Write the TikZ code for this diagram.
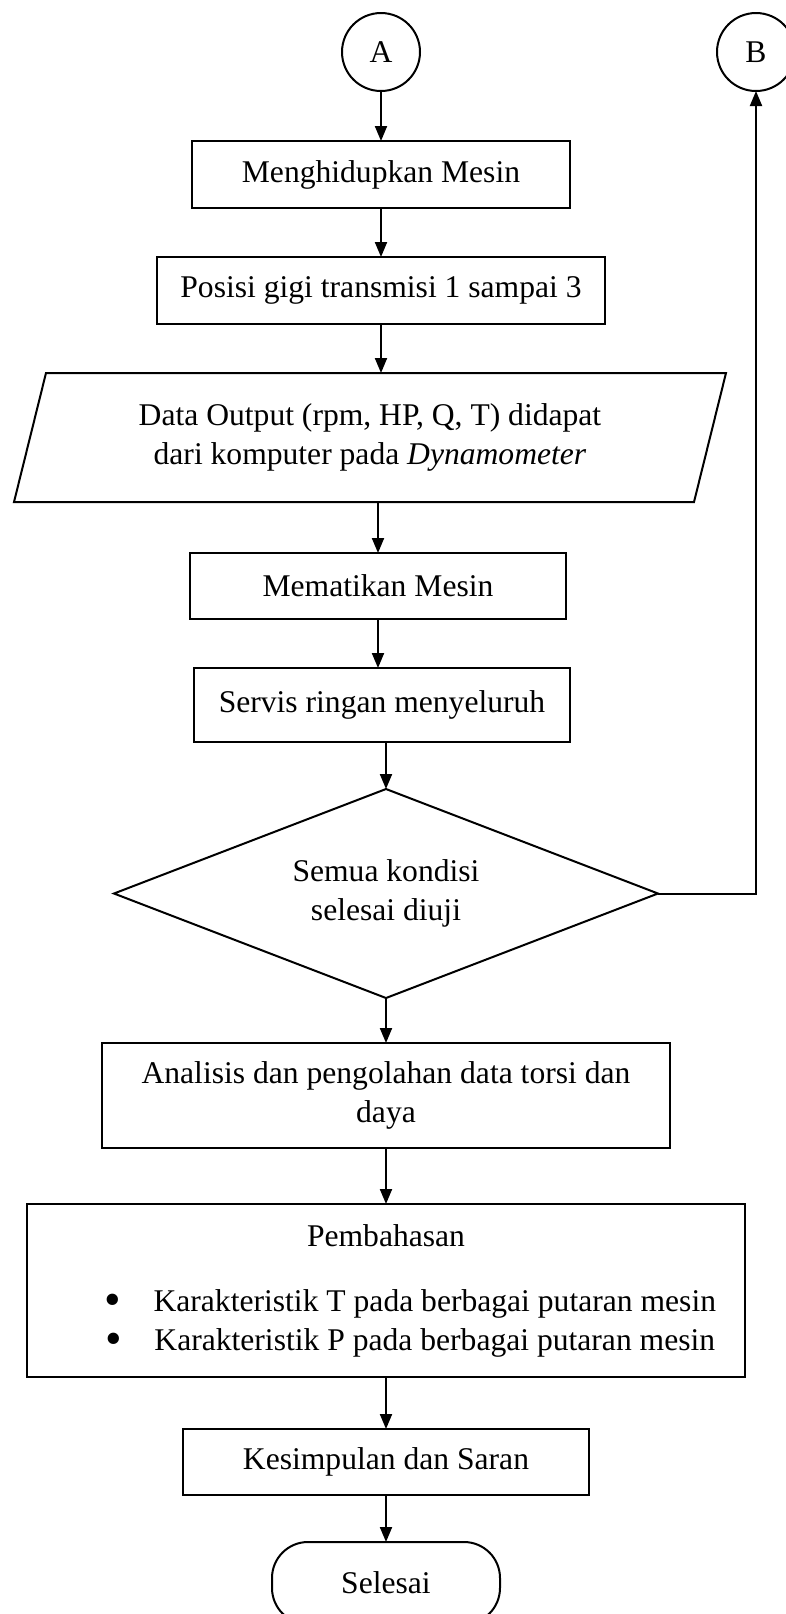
\documentclass[tikz,border=0pt]{standalone}
\usepackage{fontspec}
\setmainfont{Liberation Serif}
\usetikzlibrary{arrows.meta,positioning,shapes.geometric}

\newcommand{\bigbullet}{\smash{\raisebox{-2.2pt}{\scalebox{1.5}{\textbullet}}}}

\begin{document}
\begin{tikzpicture}[
    node distance=25pt,
    font=\fontsize{15.8}{19.5}\selectfont,
    box/.style={draw,line width=1pt,align=center,inner sep=2pt,outer sep=0pt},
    conn/.style={draw,circle,line width=1pt,minimum size=39pt,inner sep=0pt,outer sep=0pt},
    decision/.style={draw,diamond,aspect=2.6,line width=1pt,inner sep=0pt,outer sep=0pt,
                     minimum width=272pt,minimum height=104.5pt,align=center},
    flow/.style={->,line width=1pt},
    >={Triangle[length=7.5pt,width=6pt]}]
  \clip (0,0) rectangle (393pt,-807pt);

  \node[conn] (A) at (190.5pt,-26pt) {A};
  \node[conn,right=148.5pt of A] (B) {B};
  \node[box,below=of A,minimum width=189pt,minimum height=33.5pt] (hidup)
        {Menghidupkan Mesin};
  \node[box,below=24.5pt of hidup,minimum width=224pt,minimum height=33.5pt] (gigi)
        {Posisi gigi transmisi 1 sampai 3};
  \node[below=24.5pt of gigi,xshift=-5.5pt,minimum width=340pt,minimum height=64.5pt,
        align=center,inner sep=0pt,outer sep=0pt] (data)
        {Data Output (rpm, HP, Q, T) didapat\\dari komputer pada \textit{Dynamometer}};
  \draw[line width=1pt] ([xshift=8pt]data.north west) -- ([xshift=8pt]data.north east)
        -- ([xshift=-8pt]data.south east) -- ([xshift=-8pt]data.south west) -- cycle;
  \node[box,below=25.5pt of data,xshift=4pt,minimum width=188pt,minimum height=33pt] (mati)
        {Mematikan Mesin};
  \node[box,below=24.5pt of mati,xshift=2pt,minimum width=188pt,minimum height=37pt] (servis)
        {Servis ringan menyeluruh};
  \node[decision,below=23.5pt of servis,xshift=2pt] (uji)
        {Semua kondisi\\selesai diuji};
  \node[box,below=22.5pt of uji,minimum width=284pt,minimum height=52.5pt] (olah)
        {Analisis dan pengolahan data torsi dan\\daya};
  \node[box,below=28pt of olah,minimum width=359pt,minimum height=86.5pt] (bahas)
        {Pembahasan\\[13pt]
         \hspace*{24.5pt}\bigbullet\hspace{16pt}Karakteristik T pada berbagai putaran mesin\\
         \hspace*{24.5pt}\bigbullet\hspace{16pt}Karakteristik P pada berbagai putaran mesin};
  \node[box,below=26pt of bahas,minimum width=203pt,minimum height=33pt] (simpul)
        {Kesimpulan dan Saran};
  \node[box,rounded corners=18pt,below=23.5pt of simpul,minimum width=114pt,
        minimum height=41pt] (selesai) {Selesai};

  \draw[flow] (A) -- (hidup);
  \draw[flow] (hidup) -- (gigi);
  \draw[flow] (gigi.south) -- (gigi.south |- data.north);
  \draw[flow] (data.south -| mati.north) -- (mati);
  \draw[flow] (mati.south) -- (mati.south |- servis.north);
  \draw[flow] (servis.south -| uji.north) -- (uji);
  \draw[flow] (uji) -- (olah);
  \draw[flow] (olah) -- (bahas);
  \draw[flow] (bahas) -- (simpul);
  \draw[flow] (simpul) -- (selesai);
  \draw[flow] (uji.east) -| (B);
\end{tikzpicture}
\end{document}
